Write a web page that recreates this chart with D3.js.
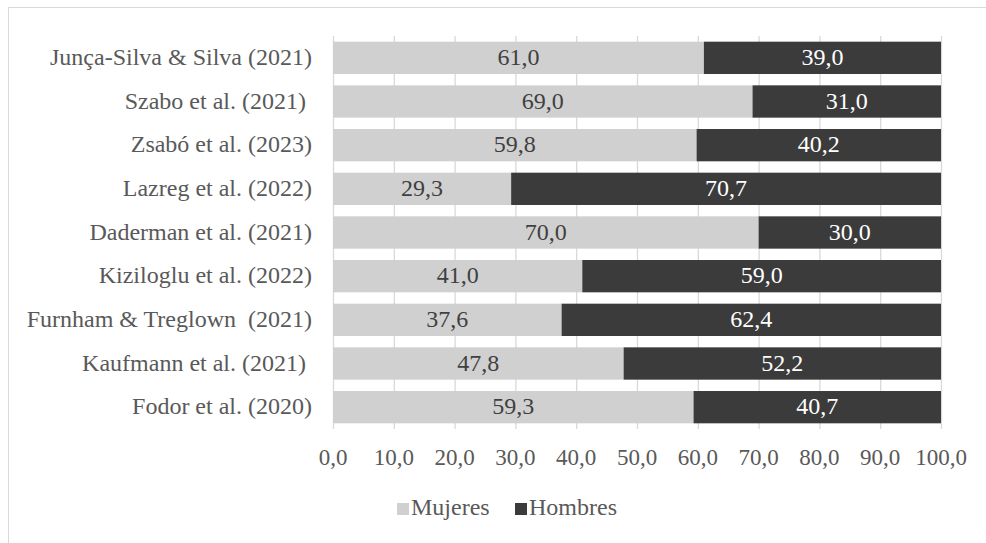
<!DOCTYPE html>
<html>
<head>
<meta charset="utf-8">
<script src="https://cdn.jsdelivr.net/npm/d3@7"></script>
<style>
  body { margin: 0; background: #fff; }
  svg text { white-space: pre; }
</style>
</head>
<body>
<svg id="chart" width="986" height="543"></svg>
<script>
var studies = ["Junça-Silva & Silva (2021)", "Szabo et al. (2021) ", "Zsabó et al. (2023)", "Lazreg et al. (2022)",
    "Daderman et al. (2021)", "Kiziloglu et al. (2022)", "Furnham & Treglown  (2021)", "Kaufmann et al. (2021) ", "Fodor et al. (2020)"]
var mujeres = [61.0, 69.0, 59.8, 29.3, 70.0, 41.0, 37.6, 47.8, 59.3]
var hombres = [39.0, 31.0, 40.2, 70.7, 30.0, 59.0, 62.4, 52.2, 40.7]
var ticks = [0, 10, 20, 30, 40, 50, 60, 70, 80, 90, 100]
var seriesNames = ["Mujeres", "Hombres"]

const svg = d3.select("#chart")
const fmt = v => v.toFixed(1).replace(".", ",")
const font = "'Liberation Serif'"
const fs = "24px"

// chart border (top + left visible)
svg.append("rect")
    .attr("x", 8.5).attr("y", 7.5)
    .attr("width", 1000).attr("height", 600)
    .style("fill", "none")
    .style("stroke", "#d9d9d9")

let x = d3.scaleLinear().domain([0, 100]).range([333, 941])
let y = d3.scaleBand().domain(studies).range([36, 429]).paddingInner(0.26).paddingOuter(0.13)

// gridlines
svg.append("g")
    .selectAll("line")
    .data(ticks)
    .enter().append("line")
    .attr("x1", d => x(d) + 0.5).attr("x2", d => x(d) + 0.5)
    .attr("y1", 36).attr("y2", 429)
    .style("stroke", "#d9d9d9")
    .style("stroke-width", 1.3)

let rows = studies.map((s, i) => ({ name: s, m: mujeres[i], h: hombres[i] }))

let g = svg.append("g").selectAll("g").data(rows).enter().append("g")

g.append("rect")
    .attr("x", x(0))
    .attr("y", d => y(d.name))
    .attr("width", d => x(d.m) - x(0))
    .attr("height", y.bandwidth())
    .style("fill", "#d0d0d0")

g.append("rect")
    .attr("x", d => x(d.m))
    .attr("y", d => y(d.name))
    .attr("width", d => x(d.m + d.h) - x(d.m))
    .attr("height", y.bandwidth())
    .style("fill", "#3b3b3b")

g.append("text")
    .attr("x", d => (x(0) + x(d.m)) / 2)
    .attr("y", d => y(d.name) + y.bandwidth() / 2)
    .attr("dy", "0.3em")
    .attr("text-anchor", "middle")
    .style("font-family", font)
    .style("font-size", fs)
    .style("fill", "#404040")
    .text(d => fmt(d.m))

g.append("text")
    .attr("x", d => (x(d.m) + x(d.m + d.h)) / 2)
    .attr("y", d => y(d.name) + y.bandwidth() / 2)
    .attr("dy", "0.3em")
    .attr("text-anchor", "middle")
    .style("font-family", font)
    .style("font-size", fs)
    .style("fill", "#ffffff")
    .text(d => fmt(d.h))

// category labels
svg.append("g").selectAll("text")
    .data(studies)
    .enter().append("text")
    .attr("x", 312)
    .attr("y", d => y(d) + y.bandwidth() / 2)
    .attr("dy", "0.3em")
    .attr("text-anchor", "end")
    .style("font-family", font)
    .style("font-size", fs)
    .style("fill", "#595959")
    .text(d => d)

// x tick labels
svg.append("g").selectAll("text")
    .data(ticks)
    .enter().append("text")
    .attr("x", d => x(d))
    .attr("y", 465)
    .attr("text-anchor", "middle")
    .style("font-family", font)
    .style("font-size", "23px")
    .style("fill", "#595959")
    .text(d => fmt(d))

// legend
let legendColors = ["#d0d0d0", "#3b3b3b"]
let legendX = [397, 515]
let lg = svg.append("g").selectAll("g").data(seriesNames).enter().append("g")
lg.append("rect")
    .attr("x", (d, i) => legendX[i])
    .attr("y", 503)
    .attr("width", 12).attr("height", 12)
    .style("fill", (d, i) => legendColors[i])
lg.append("text")
    .attr("x", (d, i) => legendX[i] + 14)
    .attr("y", 515)
    .style("font-family", font)
    .style("font-size", fs)
    .style("fill", "#595959")
    .text(d => d)
</script>
</body>
</html>
